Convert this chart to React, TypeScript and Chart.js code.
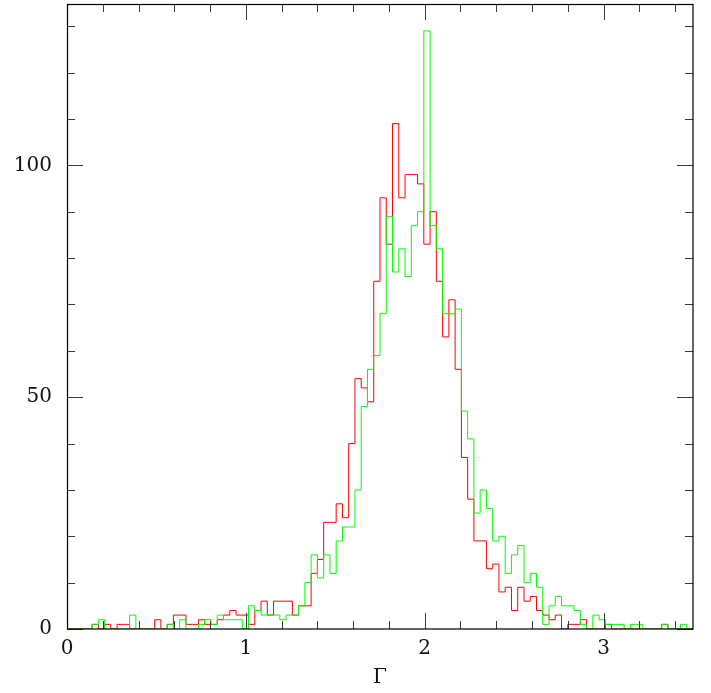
import React, { useEffect, useRef } from "react";
import { Chart, registerables } from "chart.js";

Chart.register(...registerables);

// Histogram bins: 100 bins of width 0.035 covering 0 .. 3.5
const BIN_WIDTH = 0.035;
const BIN_COUNT = 100;

const redCounts: number[] = [
  0, 0, 0, 0, 1, 0, 1, 0, 1, 1,
  0, 0, 0, 0, 2, 0, 1, 3, 3, 1,
  1, 2, 1, 1, 2, 3, 4, 3, 3, 1,
  4, 6, 3, 6, 6, 6, 3, 5, 5, 12,
  15, 23, 23, 27, 24, 40, 54, 52, 49, 75,
  93, 83, 109, 93, 98, 98, 96, 83, 90, 75,
  63, 71, 56, 37, 28, 19, 19, 13, 14, 8,
  9, 4, 9, 6, 7, 4, 3, 2, 3, 0,
  1, 1, 2, 0, 0, 0, 1, 0, 0, 0,
  0, 0, 0, 0, 0, 1, 0, 0, 0, 0,
];

const greenCounts: number[] = [
  0, 0, 0, 0, 1, 2, 0, 0, 0, 0,
  3, 0, 0, 0, 0, 0, 1, 0, 2, 0,
  0, 1, 2, 1, 3, 2, 2, 2, 0, 5,
  4, 3, 3, 3, 2, 3, 3, 5, 10, 16,
  11, 16, 12, 19, 22, 22, 30, 48, 56, 59,
  68, 89, 77, 82, 76, 87, 90, 129, 87, 82,
  68, 68, 69, 47, 41, 25, 30, 26, 19, 20,
  12, 16, 18, 10, 12, 9, 1, 5, 7, 5,
  5, 4, 1, 0, 3, 2, 1, 1, 1, 0,
  1, 1, 0, 0, 0, 1, 0, 0, 1, 0,
];

const xTickLabels: number[] = [0, 1, 2, 3];
const yTickLabels: number[] = [0, 50, 100];
const X_MIN = 0;
const X_MAX = 3.5;
const Y_MIN = 0;
const Y_MAX = 134.8;
const X_LABEL = "Γ";

function toSteps(counts: number[]) {
  // point i at the left edge of bin i; 'before' stepping keeps counts[i]
  // flat across [edge i, edge i+1] and rises/falls at edge i+1
  const pts: { x: number; y: number }[] = [];
  for (let i = 0; i < BIN_COUNT; i++) {
    pts.push({ x: +(i * BIN_WIDTH).toFixed(4), y: counts[i] });
  }
  pts.push({ x: +(BIN_COUNT * BIN_WIDTH).toFixed(4), y: 0 });
  return pts;
}

const isNear = (a: number, b: number) => Math.abs(a - b) < 1e-6;

const framePlugin = {
  id: "frameTicks",
  afterDatasetsDraw(chart: any) {
    const { ctx, chartArea } = chart;
    const { left, right, top, bottom } = chartArea;
    const xs = chart.scales.x;
    const ys = chart.scales.y;
    ctx.save();
    ctx.lineWidth = 1;
    ctx.strokeStyle = "#3a3a3a";
    ctx.beginPath();
    xs.ticks.forEach((t: any) => {
      const px = Math.round(xs.getPixelForValue(t.value)) + 0.5;
      const major = xTickLabels.some((v) => isNear(v, t.value));
      const len = major ? 16 : 8;
      ctx.moveTo(px, bottom);
      ctx.lineTo(px, bottom - len);
      ctx.moveTo(px, top);
      ctx.lineTo(px, top + len);
    });
    ys.ticks.forEach((t: any) => {
      const py = Math.round(ys.getPixelForValue(t.value)) + 0.5;
      const major = t.value % 50 === 0;
      const len = major ? 16 : 8;
      ctx.moveTo(left, py);
      ctx.lineTo(left + len, py);
      ctx.moveTo(right, py);
      ctx.lineTo(right - len, py);
    });
    ctx.stroke();
    ctx.strokeStyle = "#000";
    ctx.lineWidth = 1.2;
    ctx.strokeRect(left + 0.5, top + 0.5, right - left - 0.5, bottom - top - 0.5);
    ctx.restore();
  },
};

export default function App() {
  const canvasRef = useRef<HTMLCanvasElement | null>(null);

  useEffect(() => {
    const canvas = canvasRef.current;
    if (!canvas) return;
    const fontFamily = "'DejaVu Serif', serif";
    const chart = new Chart(canvas, {
      type: "line",
      data: {
        datasets: [
          {
            label: "green",
            data: toSteps(greenCounts),
            borderColor: "#00ff00",
            borderWidth: 1,
            pointRadius: 0,
            fill: false,
            stepped: "before",
            order: 0,
          },
          {
            label: "red",
            data: toSteps(redCounts),
            borderColor: "#ff0000",
            borderWidth: 1,
            pointRadius: 0,
            fill: false,
            stepped: "before",
            order: 1,
          },
        ],
      },
      options: {
        animation: false,
        responsive: false,
        events: [],
        layout: { padding: { left: 0, right: 18, top: 4, bottom: 0 } },
        plugins: {
          legend: { display: false },
          tooltip: { enabled: false },
          title: { display: false },
        },
        scales: {
          x: {
            type: "linear",
            min: X_MIN,
            max: X_MAX,
            grid: { display: false, drawTicks: false },
            border: { display: false },
            ticks: {
              stepSize: 0.2,
              includeBounds: false,
              autoSkip: false,
              maxRotation: 0,
              padding: 8,
              color: "#111",
              font: { family: fontFamily, size: 20 },
              callback: (v: any) => {
                const n = Number(v);
                const hit = xTickLabels.find((t) => isNear(t, n));
                return hit !== undefined ? String(hit) : "";
              },
            },
            title: {
              display: true,
              text: X_LABEL,
              color: "#111",
              font: { family: fontFamily, size: 20 },
              padding: { top: 0, bottom: 3 },
            },
            afterFit: (scale: any) => {
              scale.height = 64;
              scale.paddingLeft = 0;
              scale.paddingRight = 0;
            },
          },
          y: {
            type: "linear",
            min: Y_MIN,
            max: Y_MAX,
            grid: { display: false, drawTicks: false },
            border: { display: false },
            ticks: {
              stepSize: 10,
              includeBounds: false,
              autoSkip: false,
              padding: 15,
              color: "#111",
              font: { family: fontFamily, size: 20 },
              callback: (v: any) => {
                const n = Number(v);
                const hit = yTickLabels.find((t) => isNear(t, n));
                return hit !== undefined ? String(hit) : "";
              },
            },
            afterFit: (scale: any) => {
              scale.width = 67;
              scale.paddingTop = 0;
              scale.paddingBottom = 0;
            },
          },
        },
      },
      plugins: [framePlugin],
    } as any);
    return () => chart.destroy();
  }, []);

  return (
    <div style={{ position: "absolute", left: 0, top: 0, width: 711, height: 693, background: "#fff" }}>
      <canvas ref={canvasRef} width={711} height={693} style={{ display: "block" }} />
    </div>
  );
}
